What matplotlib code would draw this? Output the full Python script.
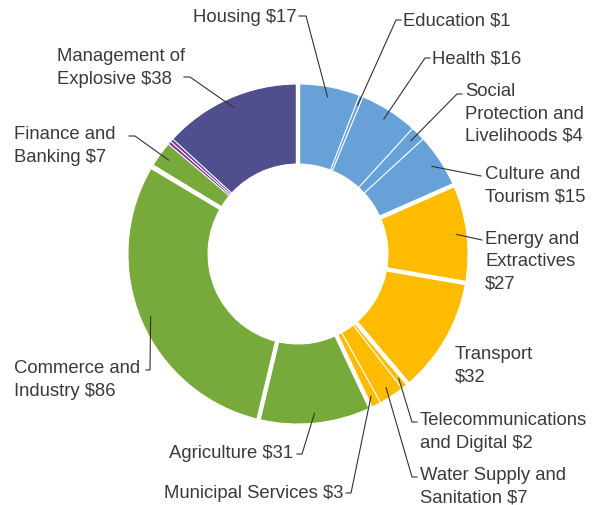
import numpy as np
import matplotlib.pyplot as plt

# sector funding, clockwise from 12 o'clock
sectors = ['Housing', 'Education', 'Health', 'Social Protection and Livelihoods',
           'Culture and Tourism', 'Energy and Extractives', 'Transport',
           'Telecommunications and Digital', 'Water Supply and Sanitation',
           'Municipal Services', 'Agriculture', 'Commerce and Industry',
           '', 'Finance and Banking', '', '', 'Management of Explosive']
values = [17, 1, 16, 4, 15, 27, 32, 2, 7, 3, 31, 86, 0.7, 7, 0.9, 0.9, 38]
groups = ['blue', 'blue', 'blue', 'blue', 'blue', 'yellow', 'yellow', 'yellow',
          'yellow', 'yellow', 'green', 'green', 'green', 'green', 'purple',
          'purple', 'slate']
palette = {'blue': '#67a1d8', 'yellow': '#ffbb00', 'green': '#77aa3b',
           'purple': '#74369f', 'slate': '#504f8e'}
# slices followed by a wider white gap
gap_after = [4, 5, 6, 9, 10, 11, 16]

label_text = ['Housing $17', 'Education $1', 'Health $16',
              'Social\nProtection and\nLivelihoods $4', 'Culture and\nTourism $15',
              'Energy and\nExtractives\n$27', 'Transport\n$32',
              'Telecommunications\nand Digital $2', 'Water Supply and\nSanitation $7',
              'Municipal Services $3', 'Agriculture $31', 'Commerce and\nIndustry $86',
              '', 'Finance and\nBanking $7', '', '', 'Management of\nExplosive $38']

H = 506
cx, cy = 298, H - 255
r_out, r_in = 170, 90

fig = plt.figure(figsize=(5.92, 5.06), dpi=100)
ax = fig.add_axes([0, 0, 1, 1])
colors = [palette[g] for g in groups]
ax.pie(values, colors=colors, startangle=90, counterclock=False,
       radius=r_out, center=(cx, cy),
       wedgeprops=dict(width=r_out - r_in, edgecolor='white', linewidth=0.7))

vals = np.array(values, dtype=float)
cum = np.concatenate([[0], np.cumsum(vals)]) / vals.sum() * 360

def polar(theta, r):
    t = np.radians(theta)
    return cx + r * np.sin(t), cy + r * np.cos(t)

for i in gap_after:
    a = cum[i + 1]
    x0, y0 = polar(a, r_in - 3)
    x1, y1 = polar(a, r_out + 3)
    ax.plot([x0, x1], [y0, y1], color='white', lw=3.2, solid_capstyle='butt')

# label placement (image pixel coords): text x, text y, ha, leader bend points
layout = {
    0: (296, 17, 'right', [(306, 17), (299, 17)]),
    1: (403, 21, 'left', [(396, 21), (401, 21)]),
    2: (432, 59, 'left', [(425, 59), (430, 59)]),
    3: (465, 114, 'left', [(457, 95), (462, 95)]),
    4: (485, 186, 'left', [(481, 177)]),
    5: (485, 262, 'left', [(482, 241)]),
    6: (455, 366, 'left', None),
    7: (420, 432, 'left', [(412, 423), (417, 423)]),
    8: (420, 487, 'left', [(412, 478), (417, 478)]),
    9: (343, 494, 'right', [(351, 494), (346, 494)]),
    10: (293, 454, 'right', [(302, 455), (297, 455)]),
    11: (14, 380, 'left', [(150, 371), (146, 371)]),
    13: (14, 146, 'left', [(135, 137), (129, 137)]),
    16: (57, 68, 'left', [(190, 78), (184, 78)]),
}

for i, (tx, ty, ha, bends) in layout.items():
    ax.text(tx, H - ty, label_text[i], ha=ha, va='center', fontsize=13.3,
            family='Liberation Sans', color='#3a3a3a', linespacing=1.4)
    if bends is None:
        continue
    mid = (cum[i] + cum[i + 1]) / 2
    sx, sy = polar(mid, 160)
    xs = [sx] + [p[0] for p in bends]
    ys = [sy] + [H - p[1] for p in bends]
    ax.plot(xs, ys, color='#333333', lw=0.8)

ax.set_xlim(0, 592)
ax.set_ylim(0, H)
ax.set_aspect('equal')
ax.axis('off')
fig.savefig('out.png', dpi=100)
